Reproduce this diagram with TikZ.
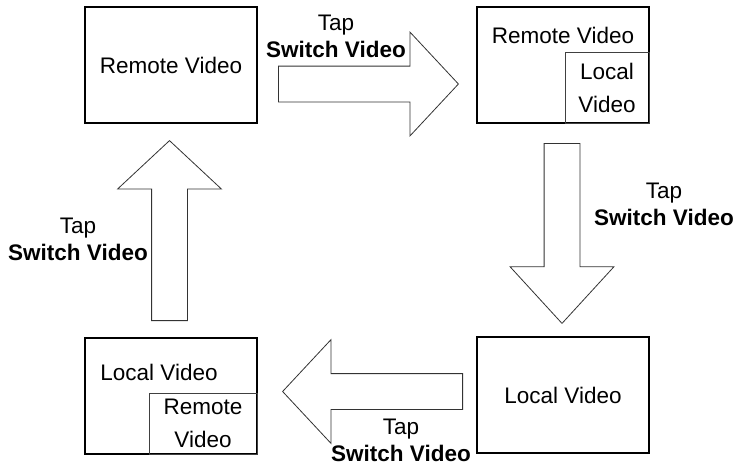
\documentclass[tikz,border=0pt]{standalone}
\usepackage{fontspec}
\setmainfont{Liberation Sans}
\usepackage{tikz}
\usetikzlibrary{positioning,shapes.arrows}

\begin{document}
\begin{tikzpicture}[x=1pt,y=-1pt,
  every node/.style={font=\fontsize{22.5}{27}\selectfont},
  screen/.style={draw,line width=1.2pt,minimum width=172pt,minimum height=116pt,inner sep=0pt,outer sep=0pt},
  inset/.style={draw,line width=0.8pt,black!75,text=black,inner sep=0pt,outer sep=0pt,align=center},
  bigarrow/.style={draw,line width=0.8pt,black!80,single arrow,single arrow head extend=34pt,
    single arrow tip angle=94,minimum width=103pt,minimum height=180pt,
    text height=35pt,text depth=0pt,inner sep=0pt,anchor=tail},
  tap/.style={align=center,inner sep=0pt}]
\useasboundingbox (0,0) rectangle (738,466);

% the four screens
\node[screen] (remoteFull) at (171,65) {Remote Video};
\node[screen] (remoteMain) at (563,65) {};
\node (remoteMainTxt) at (563,35) {Remote Video};
\node[inset,minimum width=84pt,minimum height=71pt,anchor=south east] (localInset) at (remoteMain.south east) {Local\\[6pt]Video};
\node[screen] (localFull) at (563,395) {Local Video};
\node[screen] (localMain) at (171,396) {};
\node (localMainTxt) at (159,372) {Local Video};
\node[inset,minimum width=108pt,minimum height=61pt,anchor=south east] (remoteInset) at (localMain.south east) {Remote\\[6pt]Video};

% block arrows between screens
\node[bigarrow] (swapR) at (278,84) {};
\node[bigarrow,rotate=-90,single arrow tip angle=85] (swapD) at (562,143) {};
\node[bigarrow,rotate=180] (swapL) at (463,391.5) {};
\node[bigarrow,rotate=90] (swapU) at (169.5,321) {};

\node[tap] (tapR) at (336,36.5) {Tap\\\textbf{Switch Video}};
\node[tap] (tapD) at (664,204) {Tap\\\textbf{Switch Video}};
\node[tap] (tapL) at (401,440) {Tap\\\textbf{Switch Video}};
\node[tap] (tapU) at (78,239) {Tap\\\textbf{Switch Video}};
\end{tikzpicture}
\end{document}
